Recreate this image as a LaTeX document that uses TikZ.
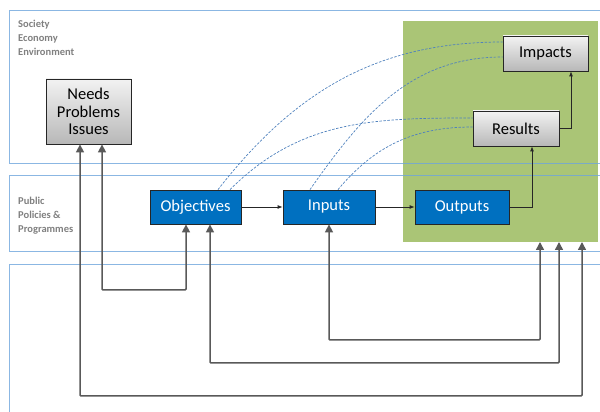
\documentclass[tikz,border=0pt]{standalone}
\usepackage{fontspec}
\setmainfont{Carlito}
\usetikzlibrary{arrows.meta}
\definecolor{bandblue}{RGB}{110,165,220}
\definecolor{boxblue}{RGB}{0,112,192}
\definecolor{panelgreen}{RGB}{170,197,118}
\definecolor{loopgray}{RGB}{89,89,89}
\definecolor{linkblue}{RGB}{79,129,189}
\definecolor{labelgray}{RGB}{128,128,128}

\begin{document}
\begin{tikzpicture}[x=1pt,y=1pt,
  band/.style={draw=bandblue, line width=0.8pt, draw opacity=0.8},
  stage/.style={draw=black!85, fill=boxblue, text=white, line width=0.8pt,
    font=\fontsize{16.5}{17.5}\selectfont, minimum width=91pt, minimum height=34pt, inner sep=0pt},
  outcome/.style={draw=black!85, top color=white!95!black, bottom color=black!28, line width=0.8pt,
    font=\fontsize{16.5}{17.5}\selectfont, minimum width=86pt, minimum height=35pt, inner sep=0pt, align=center},
  flow/.style={-{Latex[length=5pt,width=4pt]}, black!85, line width=0.8pt},
  loop/.style={{Triangle[length=8pt,width=8pt]}-{Triangle[length=8pt,width=8pt]}, loopgray, line width=1.5pt, rounded corners=1pt},
  link/.style={linkblue, dash pattern=on 2.5pt off 1.5pt, line width=0.7pt},
  tag/.style={labelgray, font=\fontsize{10.5}{14}\selectfont\bfseries, align=left, anchor=north west, inner sep=0pt}]
  \useasboundingbox (0,0) rectangle (600,412);

  % evaluation panel
  \node[fill=panelgreen, minimum width=195pt, minimum height=221pt, inner sep=0pt] (panel) at (500.5,280.5) {};

  % bands
  \draw[band] (600,402) -- (9,402) -- (9,249) -- (600,249);
  \draw[band] (600,237) -- (9,237) -- (9,161) -- (600,161);
  \draw[band] (600,148) -- (9,148) -- (9,0);
  \node[tag] (society) at (18,392) {Society\\Economy\\Environment};
  \node[tag] (public) at (18,215) {Public\\Policies \&\\Programmes};

  % boxes
  \node[outcome, minimum width=85pt, minimum height=65pt] (needs) at (88.5,300.5) {Needs\\Problems\\Issues};
  \node[stage] (obj) at (195.5,205) {Objectives};
  \node[stage, minimum width=92pt] (inp) at (329,205) {Inputs};
  \node[stage, minimum width=94pt] (out) at (462,205) {Outputs};
  \node[outcome] (res) at (516,283.5) {Results};
  \node[outcome, minimum width=85pt] (imp) at (545.5,358.5) {Impacts};

  % chain
  \draw[flow] (obj) -- (inp);
  \draw[flow] (inp) -- (out);
  \draw[flow] (out.east) -| ([xshift=16pt]res.south);
  \draw[flow] (res.east) -| ([xshift=25.5pt]imp.south);

  % links
  \draw[link] ([xshift=22.5pt]obj.north) to[out=52,in=180] ([yshift=11.5pt]imp.west);
  \draw[link] ([xshift=34.5pt]obj.north) to[out=45,in=180] ([yshift=10.5pt]res.west);
  \draw[link] ([xshift=-19pt]inp.north) to[out=55,in=180] ([yshift=-3.5pt]imp.west);
  \draw[link] ([xshift=9pt]inp.north) to[out=50,in=180] ([yshift=1.5pt]res.west);

  % feedback loops
  \coordinate (g1) at (540,170);
  \coordinate (g2) at (559,170);
  \coordinate (g3) at (582,170);
  \draw[loop] ([xshift=13.5pt]needs.south) |- (150,122) -| ([xshift=-9.5pt]obj.south);
  \draw[loop] ([xshift=-8.5pt]needs.south) |- (300,16) -| (g3);
  \draw[loop] ([xshift=14.5pt]obj.south) |- (400,49) -| (g2);
  \draw[loop] (inp.south) |- (450,72) -| (g1);
\end{tikzpicture}
\end{document}
